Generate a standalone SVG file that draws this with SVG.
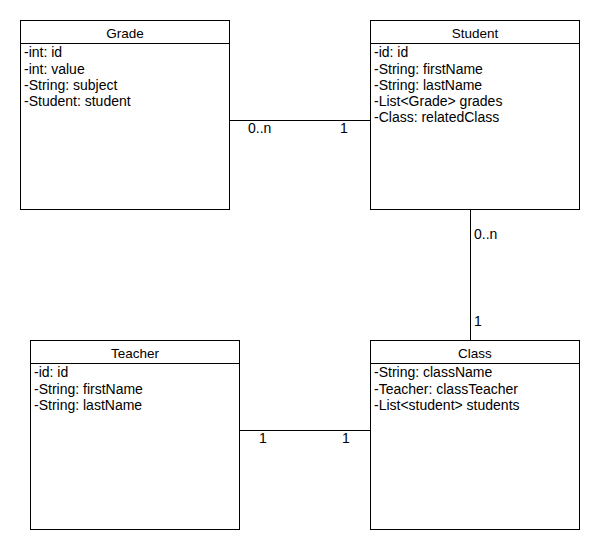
<svg xmlns="http://www.w3.org/2000/svg" width="600" height="550" viewBox="0 0 600 550">
<style>
.box{fill:#fff;stroke:#000;stroke-width:1}
.ln{stroke:#000;stroke-width:1;fill:none}
text{font-family:"Liberation Sans",Arial,sans-serif;font-size:14px;fill:#000}
.t{text-anchor:middle;font-size:13.5px}
</style>
<rect width="600" height="550" fill="#fff"/>
<g id="connectors">
<line class="ln" x1="230" y1="120.5" x2="370" y2="120.5"/>
<line class="ln" x1="470.5" y1="210" x2="470.5" y2="340"/>
<line class="ln" x1="240" y1="430.5" x2="370" y2="430.5"/>
<text x="248" y="133">0..n</text>
<text x="340" y="133">1</text>
<text x="474" y="239">0..n</text>
<text x="474" y="326">1</text>
<text x="259" y="443">1</text>
<text x="342" y="443">1</text>
</g>
<g id="grade">
<rect class="box" x="20.5" y="20.5" width="209" height="189"/>
<line class="ln" x1="20.5" y1="43.5" x2="229.5" y2="43.5"/>
<text class="t" x="125" y="38">Grade</text>
<text x="24" y="57">-int: id</text>
<text x="24" y="74">-int: value</text>
<text x="24" y="90">-String: subject</text>
<text x="24" y="106">-Student: student</text>
</g>
<g id="student">
<rect class="box" x="370.5" y="20.5" width="209" height="189"/>
<line class="ln" x1="370.5" y1="43.5" x2="579.5" y2="43.5"/>
<text class="t" x="475" y="38">Student</text>
<text x="374" y="57">-id: id</text>
<text x="374" y="74">-String: firstName</text>
<text x="374" y="90">-String: lastName</text>
<text x="374" y="106">-List&lt;Grade&gt; grades</text>
<text x="374" y="122">-Class: relatedClass</text>
</g>
<g id="teacher">
<rect class="box" x="30.5" y="340.5" width="209" height="189"/>
<line class="ln" x1="30.5" y1="363.5" x2="239.5" y2="363.5"/>
<text class="t" x="135" y="358">Teacher</text>
<text x="34" y="377">-id: id</text>
<text x="34" y="394">-String: firstName</text>
<text x="34" y="410">-String: lastName</text>
</g>
<g id="class">
<rect class="box" x="370.5" y="340.5" width="209" height="189"/>
<line class="ln" x1="370.5" y1="363.5" x2="579.5" y2="363.5"/>
<text class="t" x="475" y="358">Class</text>
<text x="374" y="377">-String: className</text>
<text x="374" y="394">-Teacher: classTeacher</text>
<text x="374" y="410">-List&lt;student&gt; students</text>
</g>
</svg>
